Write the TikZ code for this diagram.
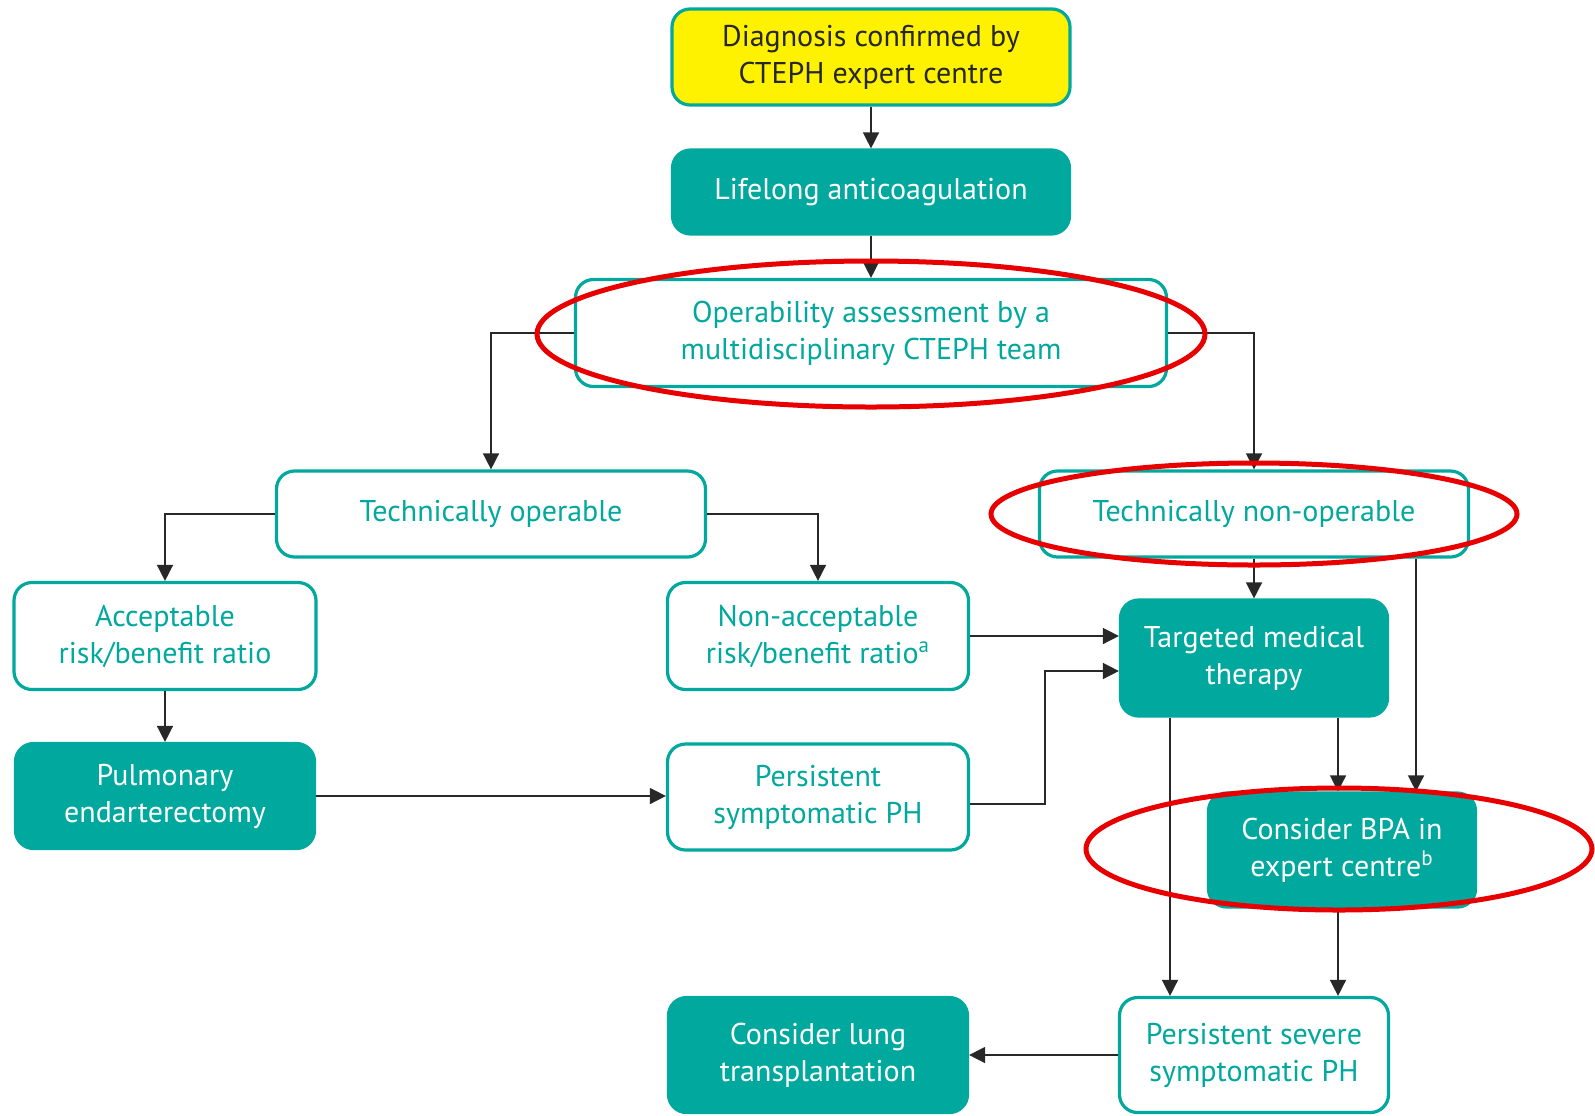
\documentclass[tikz,border=0pt]{standalone}
\usepackage{fontspec}
\setmainfont{PT Sans}
\usetikzlibrary{arrows.meta}
\definecolor{teal}{RGB}{0,168,157}
\definecolor{ctyellow}{RGB}{255,242,0}
\definecolor{ringred}{RGB}{232,0,0}
\definecolor{linegray}{RGB}{40,40,40}

\begin{document}
\begin{tikzpicture}[x=0.5pt,y=-0.5pt,
    box/.style={rounded corners=9pt, line width=1.6pt, draw=teal, align=center,
      inner sep=0pt, font=\fontsize{15}{18.5}\selectfont},
    fillbox/.style={box, fill=teal, text=white},
    openbox/.style={box, fill=white, text=teal},
    startbox/.style={box, fill=ctyellow, text=black!85},
    arr/.style={draw=linegray, line width=0.75pt, -{Triangle[width=8pt,length=8pt]}},
    ring/.style={draw=ringred, line width=2.5pt}]
  \useasboundingbox (0,0) rectangle (1595,1115);
  % boxes
  \node[startbox, minimum width=199pt, minimum height=48pt] (diag) at (871,57) {Diagnosis confirmed by\\CTEPH expert centre};
  \node[fillbox, minimum width=198.5pt, minimum height=42pt] (anticoag) at (871,192) {Lifelong anticoagulation};
  \node[openbox, minimum width=295.5pt, minimum height=53.5pt] (assess) at (871,333) {Operability assessment by a\\multidisciplinary CTEPH team};
  \node[openbox, minimum width=214.5pt, minimum height=43pt] (oper) at (491,514) {Technically operable};
  \node[openbox, minimum width=214.5pt, minimum height=43pt] (nonoper) at (1254,514) {Technically non-operable};
  \node[openbox, minimum width=151pt, minimum height=53.5pt] (accept) at (165,636) {Acceptable\\risk/benefit ratio};
  \node[openbox, minimum width=150.5pt, minimum height=53.5pt] (nonaccept) at (818,636) {Non-acceptable\\risk/benefit ratio\textsuperscript{a}};
  \node[fillbox, minimum width=133.5pt, minimum height=58pt] (tmt) at (1254,658) {Targeted medical\\therapy};
  \node[fillbox, minimum width=149.5pt, minimum height=52.5pt] (pea) at (165,796) {Pulmonary\\endarterectomy};
  \node[openbox, minimum width=150.5pt, minimum height=53pt] (persist) at (818,797) {Persistent\\symptomatic PH};
  \node[fillbox, minimum width=133.5pt, minimum height=57pt] (bpa) at (1342,850) {Consider BPA in\\expert centre\textsuperscript{b}};
  \node[openbox, minimum width=134.5pt, minimum height=57.5pt] (severe) at (1254,1055) {Persistent severe\\symptomatic PH};
  \node[fillbox, minimum width=149.5pt, minimum height=57.5pt] (lung) at (818,1055) {Consider lung\\transplantation};

  % connectors
  \draw[arr] (diag) -- (anticoag);
  \draw[arr] (anticoag) -- (assess);
  \draw[arr] (assess.west) -| (oper.north);
  \draw[arr] (assess.east) -| (nonoper.north);
  \draw[arr] (oper.west) -| (accept.north);
  \draw[arr] (oper.east) -| (nonaccept.north);
  \draw[arr] (accept) -- (pea);
  \draw[arr] (pea.east) -- (pea.east -| persist.west);
  \draw[arr] (nonaccept.east) -- (nonaccept.east -| tmt.west);
  \draw[arr] ([yshift=-3.5pt]persist.east) -- ++(75,0) |- ([yshift=-6.5pt]tmt.west);
  \draw[arr] (nonoper) -- (tmt);
  \draw[arr] ([xshift=81pt]nonoper.south) -- ([xshift=81pt]nonoper.south |- bpa.north);
  \draw[arr] ([xshift=42pt]tmt.south) -- ([xshift=42pt]tmt.south |- bpa.north);
  \draw[arr] ([xshift=-42pt]tmt.south) -- ([xshift=-42pt]tmt.south |- severe.north);
  \draw[arr] ([xshift=-2pt]bpa.south) -- ([xshift=-2pt]bpa.south |- severe.north);
  \draw[arr] (severe) -- (lung);

  % red rings
  \draw[ring] (871,334) ellipse [x radius=167pt, y radius=36.5pt];
  \draw[ring] (1254,514) ellipse [x radius=131.5pt, y radius=25.5pt];
  \draw[ring] (1339,849) ellipse [x radius=126.5pt, y radius=30.5pt];
\end{tikzpicture}
\end{document}
